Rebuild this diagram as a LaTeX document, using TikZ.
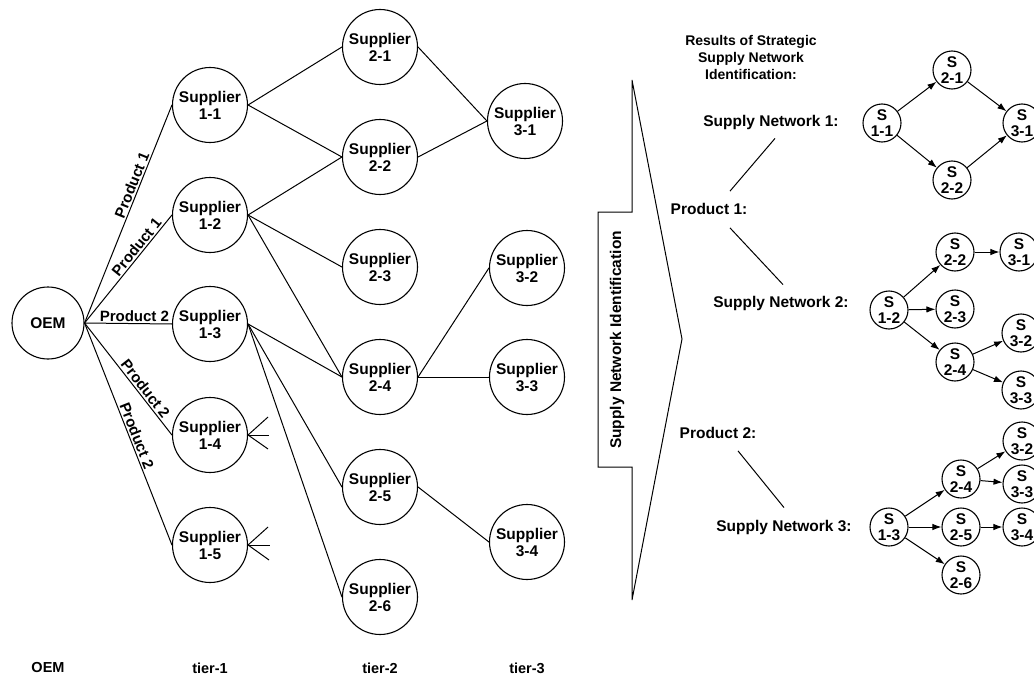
\documentclass[tikz,border=0pt]{standalone}
\usepackage{fontspec}
\setmainfont{Liberation Sans}
\usetikzlibrary{arrows.meta,calc}

\begin{document}
\begin{tikzpicture}[x=1pt,y=-1pt,
  every node/.style={font=\bfseries},
  sup/.style={circle,draw,line width=1.1pt,minimum size=75pt,inner sep=0pt,align=center,
    font=\bfseries\fontsize{15.5}{17}\selectfont},
  snode/.style={circle,draw,line width=1.1pt,minimum size=38pt,inner sep=0pt,align=center,
    font=\bfseries\fontsize{15.5}{15.5}\selectfont},
  link/.style={line width=1pt},
  flow/.style={line width=1pt,-{Latex[length=9pt,width=6.5pt]}},
  lbl/.style={inner sep=0pt,font=\bfseries\fontsize{15.5}{17}\selectfont},
  edgelbl/.style={sloped,above,inner sep=1.5pt,font=\bfseries\fontsize{15}{17}\selectfont},
]
\clip (0,0) rectangle (1034,677);

% ---------------- supply network: OEM and tiers ----------------
\node[sup,minimum size=72pt] (oem) at (48,323) {OEM};

\node[sup] (s11) at (210,105) {Supplier\\1-1};
\node[sup] (s12) at (210,215) {Supplier\\1-2};
\node[sup] (s13) at (210,324) {Supplier\\1-3};
\node[sup] (s14) at (210,435) {Supplier\\1-4};
\node[sup] (s15) at (210,545) {Supplier\\1-5};

\node[sup] (s21) at (380,47)  {Supplier\\2-1};
\node[sup] (s22) at (380,157) {Supplier\\2-2};
\node[sup] (s23) at (380,267) {Supplier\\2-3};
\node[sup] (s24) at (380,377) {Supplier\\2-4};
\node[sup] (s25) at (380,487) {Supplier\\2-5};
\node[sup] (s26) at (380,597) {Supplier\\2-6};

\node[sup] (s31) at (525,121) {Supplier\\3-1};
\node[sup] (s32) at (527,268) {Supplier\\3-2};
\node[sup] (s33) at (527,377) {Supplier\\3-3};
\node[sup] (s34) at (527,542) {Supplier\\3-4};

% OEM to tier-1, labelled by product
\draw[link] (oem.east) -- node[edgelbl,pos=0.62] {Product 1} (s11.west);
\draw[link] (oem.east) -- node[edgelbl,pos=0.66] {Product 1} (s12.west);
\draw[link] (oem.east) -- node[edgelbl,pos=0.57] {Product 2} (s13.west);
\draw[link] (oem.east) -- node[edgelbl,pos=0.63] {Product 2} (s14.west);
\draw[link] (oem.east) -- node[edgelbl,pos=0.52] {Product 2} (s15.west);

% tier-1 to tier-2
\draw[link] (s11.east) -- (s21.west);
\draw[link] (s11.east) -- (s22.west);
\draw[link] (s12.east) -- (s22.west);
\draw[link] (s12.east) -- (s23.west);
\draw[link] (s12.east) -- (s24.west);
\draw[link] (s13.east) -- (s24.west);
\draw[link] (s13.east) -- (s25.west);
\draw[link] (s13.east) -- (s26.west);

% open-ended fans of the suppliers 1-4 and 1-5
\draw[link] (s14.east) -- ++(20,-18);
\draw[link] (s14.east) -- ++(21,0);
\draw[link] (s14.east) -- ++(20,14);
\draw[link] (s15.east) -- ++(20,-18);
\draw[link] (s15.east) -- ++(22,0);
\draw[link] (s15.east) -- ++(21,15);

% tier-2 to tier-3
\draw[link] (s21.east) -- (s31.west);
\draw[link] (s22.east) -- (s31.west);
\draw[link] (s24.east) -- (s32.west);
\draw[link] (s24.east) -- (s33.west);
\draw[link] (s25.east) -- (s34.west);

% tier captions
\node[lbl,font=\bfseries\fontsize{14.5}{17}\selectfont] (c0) at (48,668)  {OEM};
\node[lbl,font=\bfseries\fontsize{14.5}{17}\selectfont] (c1) at (210,668) {tier-1};
\node[lbl,font=\bfseries\fontsize{14.5}{17}\selectfont] (c2) at (380,668) {tier-2};
\node[lbl,font=\bfseries\fontsize{14.5}{17}\selectfont] (c3) at (527,668) {tier-3};

% ---------------- identification arrow ----------------
\draw[line width=1pt,line join=miter]
  (632,80) -- (632,212) -- (598,212) -- (598,467) -- (632,467)
  -- (632,600) -- (682,339) -- cycle;
\node[lbl] (ident) at (617,340) [rotate=90] {Supply Network Identification};

% ---------------- identified networks ----------------
\node[lbl,align=center,font=\bfseries\fontsize{14}{17}\selectfont] (res) at (751,57)
  {Results of Strategic\\Supply Network\\Identification:};

\node[lbl] (sn1) at (771,122) {Supply Network 1:};
\node[lbl] (p1)  at (709,209) {Product 1:};
\node[lbl] (sn2) at (781,303) {Supply Network 2:};
\node[lbl] (p2)  at (718,433) {Product 2:};
\node[lbl] (sn3) at (784,527) {Supply Network 3:};

\draw[link] ($(sn1.south)+(4,9)$) -- ($(p1.north)+(21,-12)$);
\draw[link] ($(p1.south)+(21,13)$) -- ($(sn2.north)+(2,-11)$);
\draw[link] ($(p2.south)+(20,12)$) -- ($(sn3.north)+(0,-12)$);

% network 1
\node[snode] (a11) at (882,123)  {S\\1-1};
\node[snode] (a21) at (952,70)   {S\\2-1};
\node[snode] (a22) at (952,180)  {S\\2-2};
\node[snode] (a31) at (1022,123) {S\\3-1};
\draw[flow] (a11) -- (a21);
\draw[flow] (a11) -- (a22);
\draw[flow] (a21) -- (a31);
\draw[flow] (a22) -- (a31);

% network 2
\node[snode] (b12) at (889,310)  {S\\1-2};
\node[snode] (b22) at (955,252)  {S\\2-2};
\node[snode] (b23) at (955,309)  {S\\2-3};
\node[snode] (b24) at (955,362)  {S\\2-4};
\node[snode] (b31) at (1019,252) {S\\3-1};
\node[snode] (b32) at (1021,333) {S\\3-2};
\node[snode] (b33) at (1021,390) {S\\3-3};
\draw[flow] (b12) -- (b22);
\draw[flow] (b12) -- (b23);
\draw[flow] (b12) -- (b24);
\draw[flow] (b22) -- (b31);
\draw[flow] (b24) -- (b32);
\draw[flow] (b24) -- (b33);

% network 3
\node[snode] (c13) at (889,527)  {S\\1-3};
\node[snode] (c24) at (961,479)  {S\\2-4};
\node[snode] (c25) at (961,527)  {S\\2-5};
\node[snode] (c26) at (961,575)  {S\\2-6};
\node[snode] (c32) at (1022,441) {S\\3-2};
\node[snode] (c33) at (1022,484) {S\\3-3};
\node[snode] (c34) at (1022,527) {S\\3-4};
\draw[flow] (c13) -- (c24);
\draw[flow] (c13) -- (c25);
\draw[flow] (c13) -- (c26);
\draw[flow] (c24) -- (c32);
\draw[flow] (c24) -- (c33);
\draw[flow] (c25) -- (c34);
\end{tikzpicture}
\end{document}
